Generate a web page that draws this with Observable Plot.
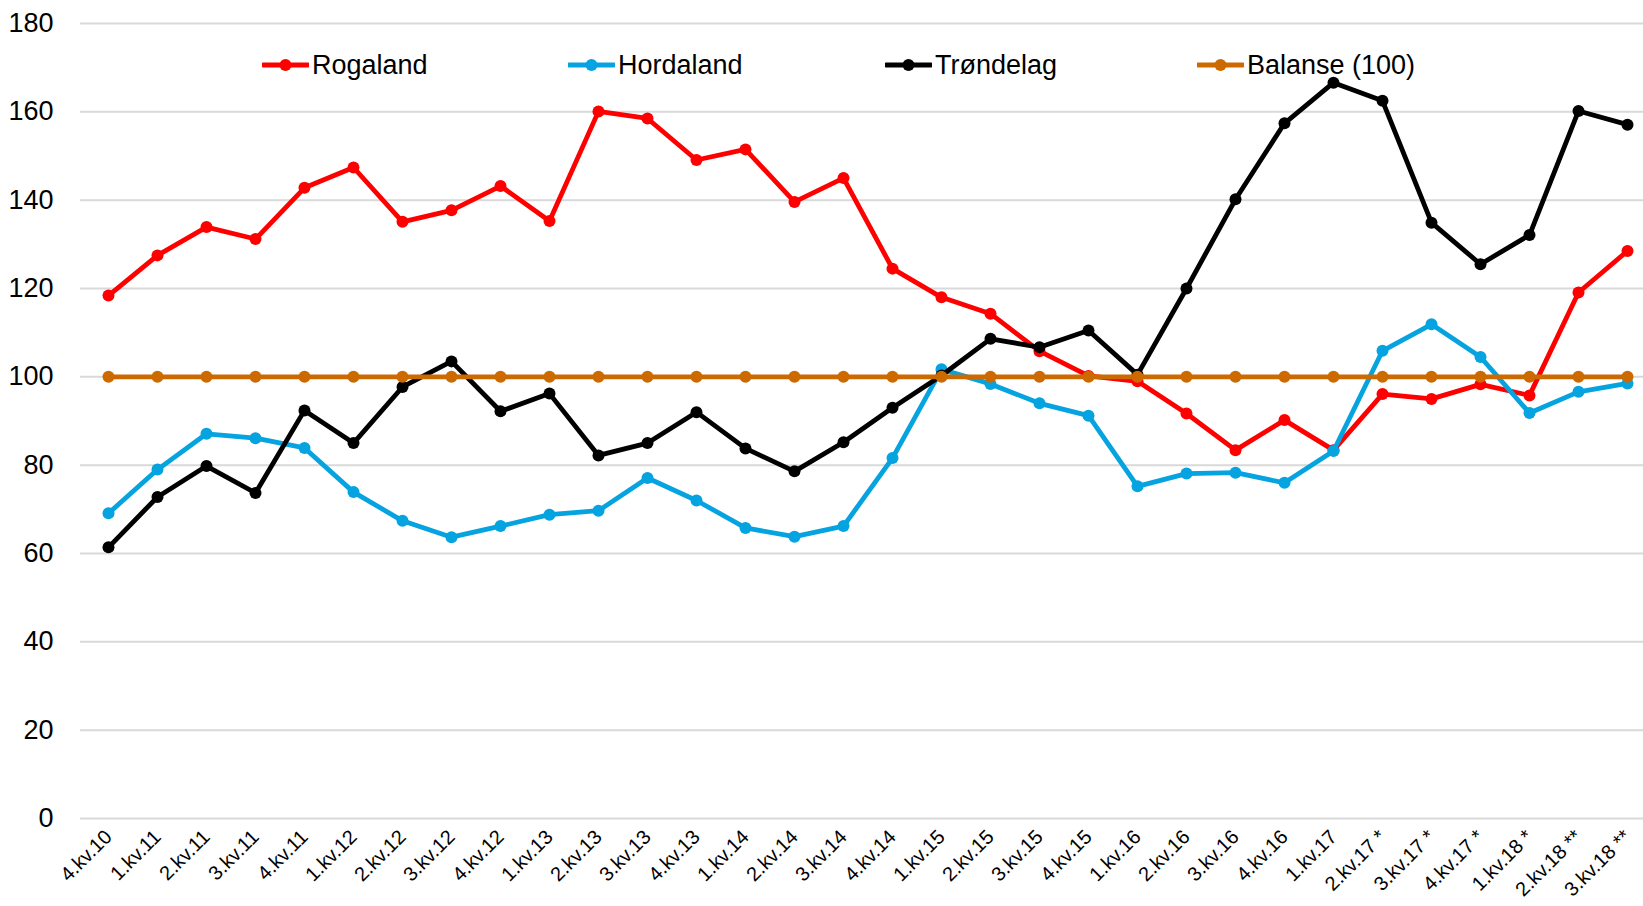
<!DOCTYPE html>
<html><head><meta charset="utf-8">
<script src="https://cdn.jsdelivr.net/npm/d3@7"></script>
<script src="https://cdn.jsdelivr.net/npm/@observablehq/plot@0.6"></script>
<style>
html,body{margin:0;padding:0;background:#fff;overflow:hidden}
#wrap{position:relative;width:1643px;height:906px;font-family:"Liberation Sans",Arial,sans-serif}
.leg{position:absolute;top:48px;height:34px;display:flex;align-items:center;font-size:27px;color:#000;white-space:nowrap}
.leg svg{margin-right:3px;display:block}
</style></head><body><div id="wrap"></div>
<script>
const categories = ["4.kv.10","1.kv.11","2.kv.11","3.kv.11","4.kv.11","1.kv.12","2.kv.12","3.kv.12","4.kv.12","1.kv.13","2.kv.13","3.kv.13","4.kv.13","1.kv.14","2.kv.14","3.kv.14","4.kv.14","1.kv.15","2.kv.15","3.kv.15","4.kv.15","1.kv.16","2.kv.16","3.kv.16","4.kv.16","1.kv.17","2.kv.17 *","3.kv.17 *","4.kv.17 *","1.kv.18 *","2.kv.18 **","3.kv.18 **"];
const rogaland = [118.4,127.5,133.9,131.2,142.8,147.4,135.1,137.7,143.2,135.3,160.1,158.5,149.1,151.5,139.6,145.0,124.5,118.0,114.3,105.8,100.2,99.0,91.7,83.4,90.2,83.4,96.1,95.0,98.3,95.8,119.1,128.5];
const hordaland = [69.1,79.0,87.1,86.1,83.9,73.9,67.4,63.7,66.2,68.8,69.7,77.1,72.0,65.8,63.8,66.2,81.6,101.7,98.4,94.0,91.2,75.2,78.1,78.3,76.0,83.2,105.9,111.9,104.5,91.8,96.6,98.5];
const trondelag = [61.4,72.8,79.8,73.7,92.4,85.0,97.7,103.5,92.2,96.2,82.2,85.0,92.0,83.8,78.6,85.2,93.0,100.3,108.6,106.7,110.5,100.5,120.0,140.2,157.4,166.6,162.5,134.9,125.5,132.1,160.2,157.1];
const balanse = [100,100,100,100,100,100,100,100,100,100,100,100,100,100,100,100,100,100,100,100,100,100,100,100,100,100,100,100,100,100,100,100];
const yTicks = [0,20,40,60,80,100,120,140,160,180];
const seriesNames = ["Rogaland","Hordaland","Trøndelag","Balanse (100)"];
const seriesColors = ["#FF0000","#05A3DF","#000000","#CC6A00"];
const seriesValues = [rogaland, hordaland, trondelag, balanse];

const marks = [Plot.ruleY(yTicks, {stroke:"#D9D9D9", strokeWidth:2})];
seriesNames.forEach((name, k) => {
  const d = seriesValues[k].map((v, i) => ({cat: categories[i], value: v, series: name}));
  marks.push(Plot.line(d, {x:"cat", y:"value", stroke: seriesColors[k], strokeWidth:4.8, strokeLinejoin:"round", strokeLinecap:"round"}));
  marks.push(Plot.dot(d, {x:"cat", y:"value", fill: seriesColors[k], r:6, stroke:"none"}));
});
marks.push(Plot.axisY({ticks: yTicks, tickSize:0, tickPadding:27, fontSize:27, label:null, fill:"#000"}));
marks.push(Plot.axisX({tickSize:0, tickRotate:-45, tickPadding:15, fontSize:20, label:null, fill:"#000"}));

const chart = Plot.plot({
  width:1643, height:906,
  marginLeft:80, marginRight:0, marginTop:23, marginBottom:88,
  insetLeft:23, insetRight:12,
  style:{fontFamily:'"Liberation Sans", Arial, sans-serif', color:"#000", background:"#fff"},
  x:{type:"point", domain:categories, padding:0},
  y:{domain:[0,180]},
  marks
});
const wrap = document.getElementById("wrap");
wrap.appendChild(chart);

const legLefts = [262, 568, 885, 1197];
seriesNames.forEach((name, k) => {
  const item = document.createElement("div");
  item.className = "leg";
  item.style.left = legLefts[k] + "px";
  const c = seriesColors[k];
  item.innerHTML = `<svg width="47" height="16"><line x1="1" y1="8" x2="46" y2="8" stroke="${c}" stroke-width="4.8" stroke-linecap="round"/><circle cx="23.5" cy="8" r="6" fill="${c}"/></svg><span>${name}</span>`;
  wrap.appendChild(item);
});
</script></body></html>
